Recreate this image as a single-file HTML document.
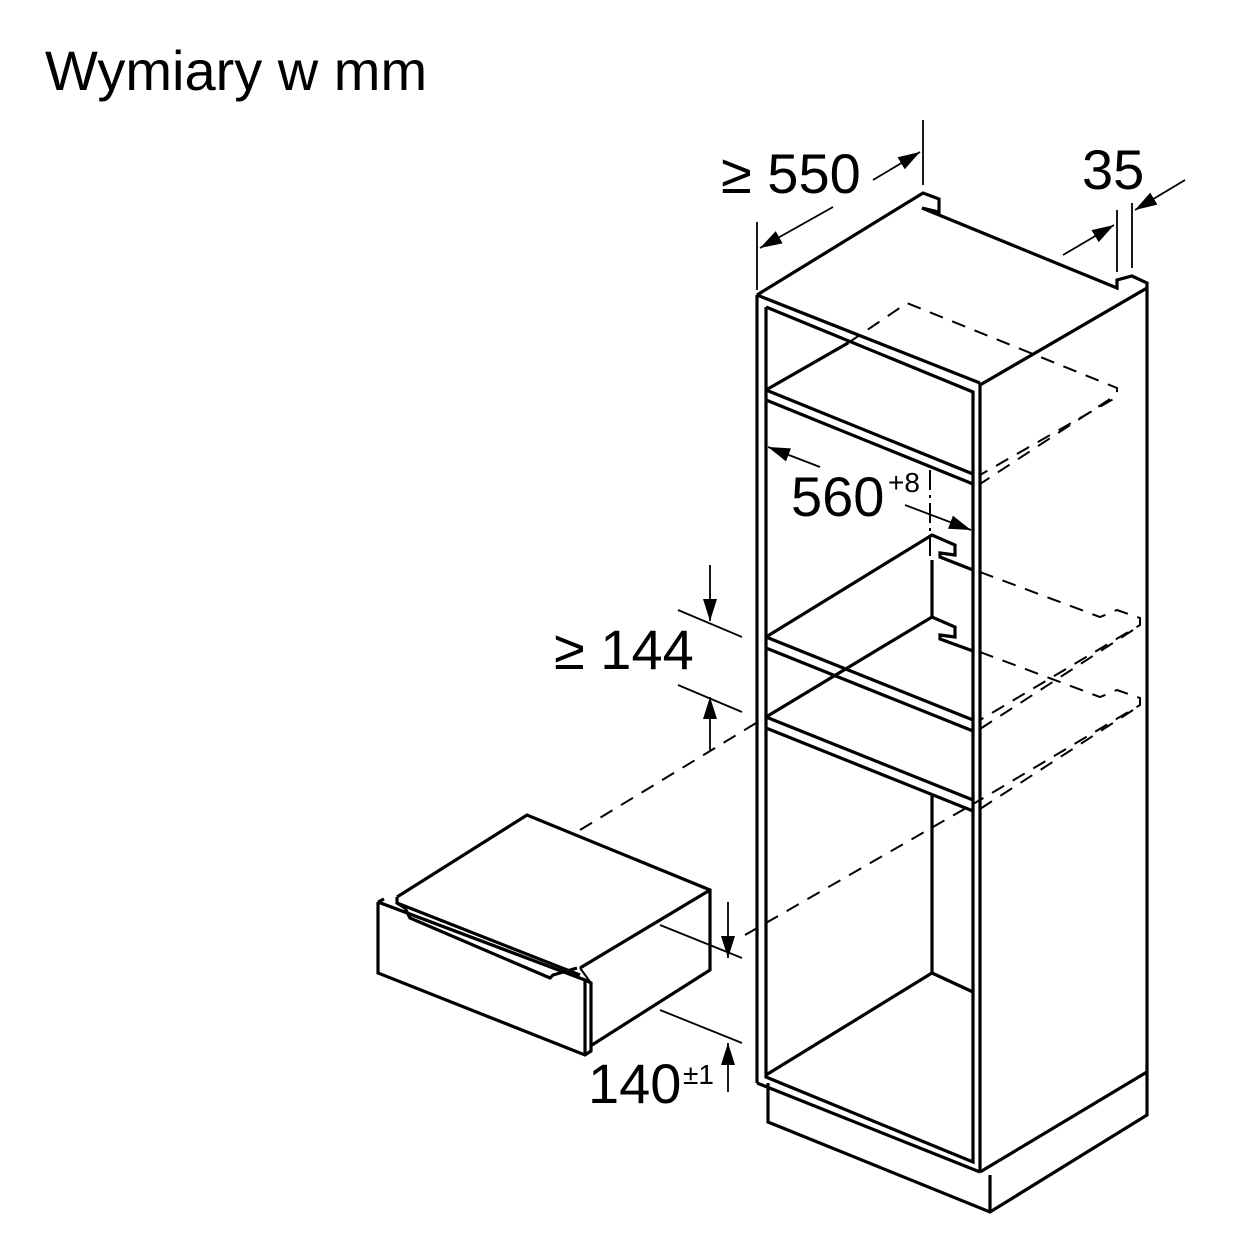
<!DOCTYPE html>
<html><head><meta charset="utf-8"><style>
html,body{margin:0;padding:0;background:#fff;}
svg{display:block;}
text{font-family:"Liberation Sans",sans-serif;fill:#000;}
</style></head><body>
<svg width="1260" height="1260" viewBox="0 0 1260 1260" xmlns="http://www.w3.org/2000/svg">
<defs>
<marker id="ah" viewBox="0 0 22 14" refX="22" refY="7" markerWidth="22" markerHeight="14" markerUnits="userSpaceOnUse" orient="auto"><path d="M0,0 L22,7 L0,14 z" fill="#000"/></marker>
</defs>
<rect width="1260" height="1260" fill="#fff"/>
<text x="45" y="90" font-size="56">Wymiary w mm</text>

<g fill="none" stroke="#000" stroke-width="3.2" stroke-linejoin="miter">
<polyline points="757,295 923,193 939,199 939,212 922,208 1117,288 1117,280 1132,276 1147,283 1147,1072"/>
<line x1="757" y1="295" x2="980" y2="383"/>
<line x1="1147" y1="288" x2="980" y2="385"/>
<line x1="757" y1="295" x2="757" y2="1083"/>
<line x1="980" y1="383" x2="980" y2="1172"/>
<line x1="757" y1="1083" x2="980" y2="1172"/>
<line x1="980" y1="1172" x2="1147" y2="1072"/>
<polyline points="766,307 973,392 973,1162 766,1077 766,307"/>
<polyline points="768,1083 768,1122 990,1212 1147,1115 1147,1072"/>
<line x1="990" y1="1175" x2="990" y2="1212"/>
<line x1="766" y1="390" x2="848" y2="343"/>
<line x1="766" y1="390" x2="973" y2="474"/>
<line x1="766" y1="400" x2="973" y2="484"/>
<polyline points="766,637 932,535 955,545 955,555 940,553 940,557 973,570"/>
<line x1="766" y1="637" x2="973" y2="720"/>
<line x1="766" y1="648" x2="973" y2="731"/>
<line x1="932" y1="560" x2="932" y2="617"/>
<polyline points="766,717 932,617 955,627 955,637 940,635 940,639 973,651"/>
<line x1="766" y1="717" x2="973" y2="800"/>
<line x1="766" y1="728" x2="973" y2="811"/>
<polyline points="932,795 932,973 766,1075"/>
<line x1="932" y1="973" x2="973" y2="992"/>
<polyline points="397,897 527,815 710,890 710,970 592,1045"/>
<line x1="580" y1="968" x2="710" y2="890"/>
<polyline points="397,897 397,903 405,908 410,918 550,978 553,975 577,968"/>
<line x1="397" y1="903" x2="580" y2="975"/>
<polyline points="378,902 378,973 585,1055 591,1051 591,983 585,980 378,902"/>
<line x1="378" y1="902" x2="384" y2="899" />
<line x1="585" y1="980" x2="585" y2="1055"/>
<line x1="591" y1="983" x2="580" y2="968" stroke-width="2"/>
</g>

<g fill="none" stroke="#000" stroke-width="2" stroke-dasharray="14,10">
<polyline points="848,343 907,303 1117,388 1117,397 980,475"/>
<line x1="1110" y1="399" x2="980" y2="484"/>
<polyline points="980,572 1100,617 1117,610 1140,618 1140,625 980,720"/>
<line x1="1133" y1="630" x2="980" y2="729"/>
<polyline points="980,652 1100,697 1117,690 1140,698 1140,705 980,800"/>
<line x1="1133" y1="710" x2="980" y2="809"/>
<line x1="580" y1="830" x2="766" y2="717"/>
<line x1="745" y1="935" x2="980" y2="800"/>
<line x1="848" y1="343" x2="766" y2="390"/>
</g>
<g fill="none" stroke="#000" stroke-width="2" stroke-dasharray="20,5,3,5">
<line x1="930" y1="470" x2="930" y2="560"/>
</g>

<g stroke="#000" stroke-width="1.8" fill="none">
<line x1="757" y1="222" x2="757" y2="290"/>
<line x1="923" y1="120" x2="923" y2="185"/>
<line x1="833" y1="207" x2="760" y2="248" marker-end="url(#ah)"/>
<line x1="873" y1="180" x2="920" y2="152" marker-end="url(#ah)"/>
<line x1="1117" y1="210" x2="1117" y2="272"/>
<line x1="1132" y1="203" x2="1132" y2="268"/>
<line x1="1063" y1="255" x2="1114" y2="225" marker-end="url(#ah)"/>
<line x1="1185" y1="180" x2="1135" y2="210" marker-end="url(#ah)"/>
<line x1="820" y1="467" x2="768" y2="447" marker-end="url(#ah)"/>
<line x1="905" y1="505" x2="971" y2="530" marker-end="url(#ah)"/>
<line x1="710" y1="565" x2="710" y2="621" marker-end="url(#ah)"/>
<line x1="678" y1="610" x2="742" y2="637"/>
<line x1="678" y1="685" x2="742" y2="712"/>
<line x1="710" y1="750" x2="710" y2="697" marker-end="url(#ah)"/>
<line x1="660" y1="925" x2="742" y2="958"/>
<line x1="660" y1="1010" x2="742" y2="1043"/>
<line x1="728" y1="902" x2="728" y2="958" marker-end="url(#ah)"/>
<line x1="728" y1="1092" x2="728" y2="1043" marker-end="url(#ah)"/>
</g>
<g font-size="56">
<text x="721" y="193">≥ 550</text>
<text x="1082" y="189">35</text>
<text x="791" y="516">560</text>
<text x="888" y="492" font-size="28">+8</text>
<text x="554" y="669">≥ 144</text>
<text x="588" y="1103">140</text>
<text x="683" y="1084" font-size="28">±1</text>
</g>
</svg>
</body></html>
